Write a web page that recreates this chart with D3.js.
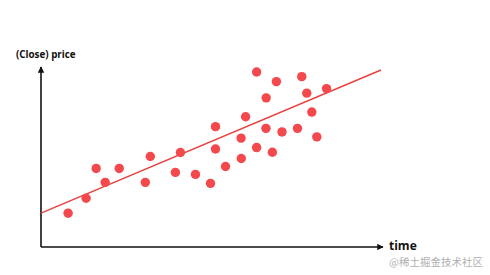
<!DOCTYPE html>
<html>
<head>
<meta charset="utf-8">
<script src="https://cdn.jsdelivr.net/npm/d3@7"></script>
<style>
  body { margin: 0; background: #fff; }
  svg { display: block; font-family: "Open Sans", sans-serif; }
</style>
</head>
<body>
<svg id="chart"></svg>
<script>
// time / price samples (arbitrary units)
var times  = [27, 45, 55, 64, 78, 104, 109, 134, 139, 154, 169, 174, 174, 184, 199.5,
              199.7, 204, 215, 215, 224.5, 224.3, 230.7, 234.7, 240.3, 255.7, 260, 265, 270, 275, 284.7];
var prices = [34, 49, 79, 65, 79, 65, 91, 75, 95, 73, 64, 121, 98.5, 81, 109.5,
              89, 131, 176, 100, 150, 119.3, 95.3, 166.3, 115.7, 119.3, 171.3, 154.7, 135.7, 110.7, 159.3];
// fitted trend line end points
var trendX = [0, 339];
var trendY = [34, 178];

var yLabel = "(Close) price";
var xLabel = "time";
var watermark = "@稀土掘金技术社区";

var width = 490, height = 275;
var margin = { top: 68, left: 41, bottom: 28, right: 108 };

var svg = d3.select("#chart")
  .attr("width", width)
  .attr("height", height);

var x = d3.scaleLinear()
  .domain([0, 340])
  .range([margin.left, width - margin.right]);

var y = d3.scaleLinear()
  .domain([0, 180])
  .range([height - margin.bottom, margin.top]);

var points = times.map((t, i) => ({ t: t, p: prices[i] }));

// arrow head
svg.append("defs").append("marker")
  .attr("id", "arrow")
  .attr("viewBox", "0 0 10 10")
  .attr("refX", 9)
  .attr("refY", 5)
  .attr("markerWidth", 4)
  .attr("markerHeight", 4)
  .attr("orient", "auto")
  .append("path")
  .attr("d", "M0,0L10,5L0,10z")
  .attr("fill", "#111");

// axes
svg.append("line")
  .attr("x1", x(0)).attr("y1", y(0))
  .attr("x2", x(0)).attr("y2", y(180) - 1)
  .attr("stroke", "#111")
  .attr("stroke-width", 1.6)
  .attr("marker-end", "url(#arrow)");

svg.append("line")
  .attr("x1", x(0)).attr("y1", y(0))
  .attr("x2", x(340) + 1).attr("y2", y(0))
  .attr("stroke", "#111")
  .attr("stroke-width", 1.6)
  .attr("marker-end", "url(#arrow)");

// trend line
svg.append("line")
  .attr("x1", x(trendX[0])).attr("y1", y(trendY[0]))
  .attr("x2", x(trendX[1])).attr("y2", y(trendY[1]))
  .attr("stroke", "#e8403f")
  .attr("stroke-width", 1.4);

// dots
svg.selectAll(".dot")
  .data(points)
  .enter()
  .append("circle")
  .attr("class", "dot")
  .attr("cx", d => x(d.t))
  .attr("cy", d => y(d.p))
  .attr("r", 4.7)
  .attr("fill", "#f4494c");

// labels
svg.append("text")
  .attr("x", 16)
  .attr("y", 58)
  .attr("font-size", 9.8)
  .attr("font-weight", "bold")
  .attr("fill", "#111")
  .text(yLabel);

svg.append("text")
  .attr("x", 389)
  .attr("y", 250)
  .attr("font-size", 12)
  .attr("font-weight", "bold")
  .attr("fill", "#111")
  .text(xLabel);

svg.append("text")
  .attr("x", 389)
  .attr("y", 266)
  .attr("font-size", 10.5)
  .attr("fill", "#b0b0b0")
  .style("font-family", "'Noto Sans CJK SC', sans-serif")
  .text(watermark);
</script>
</body>
</html>
